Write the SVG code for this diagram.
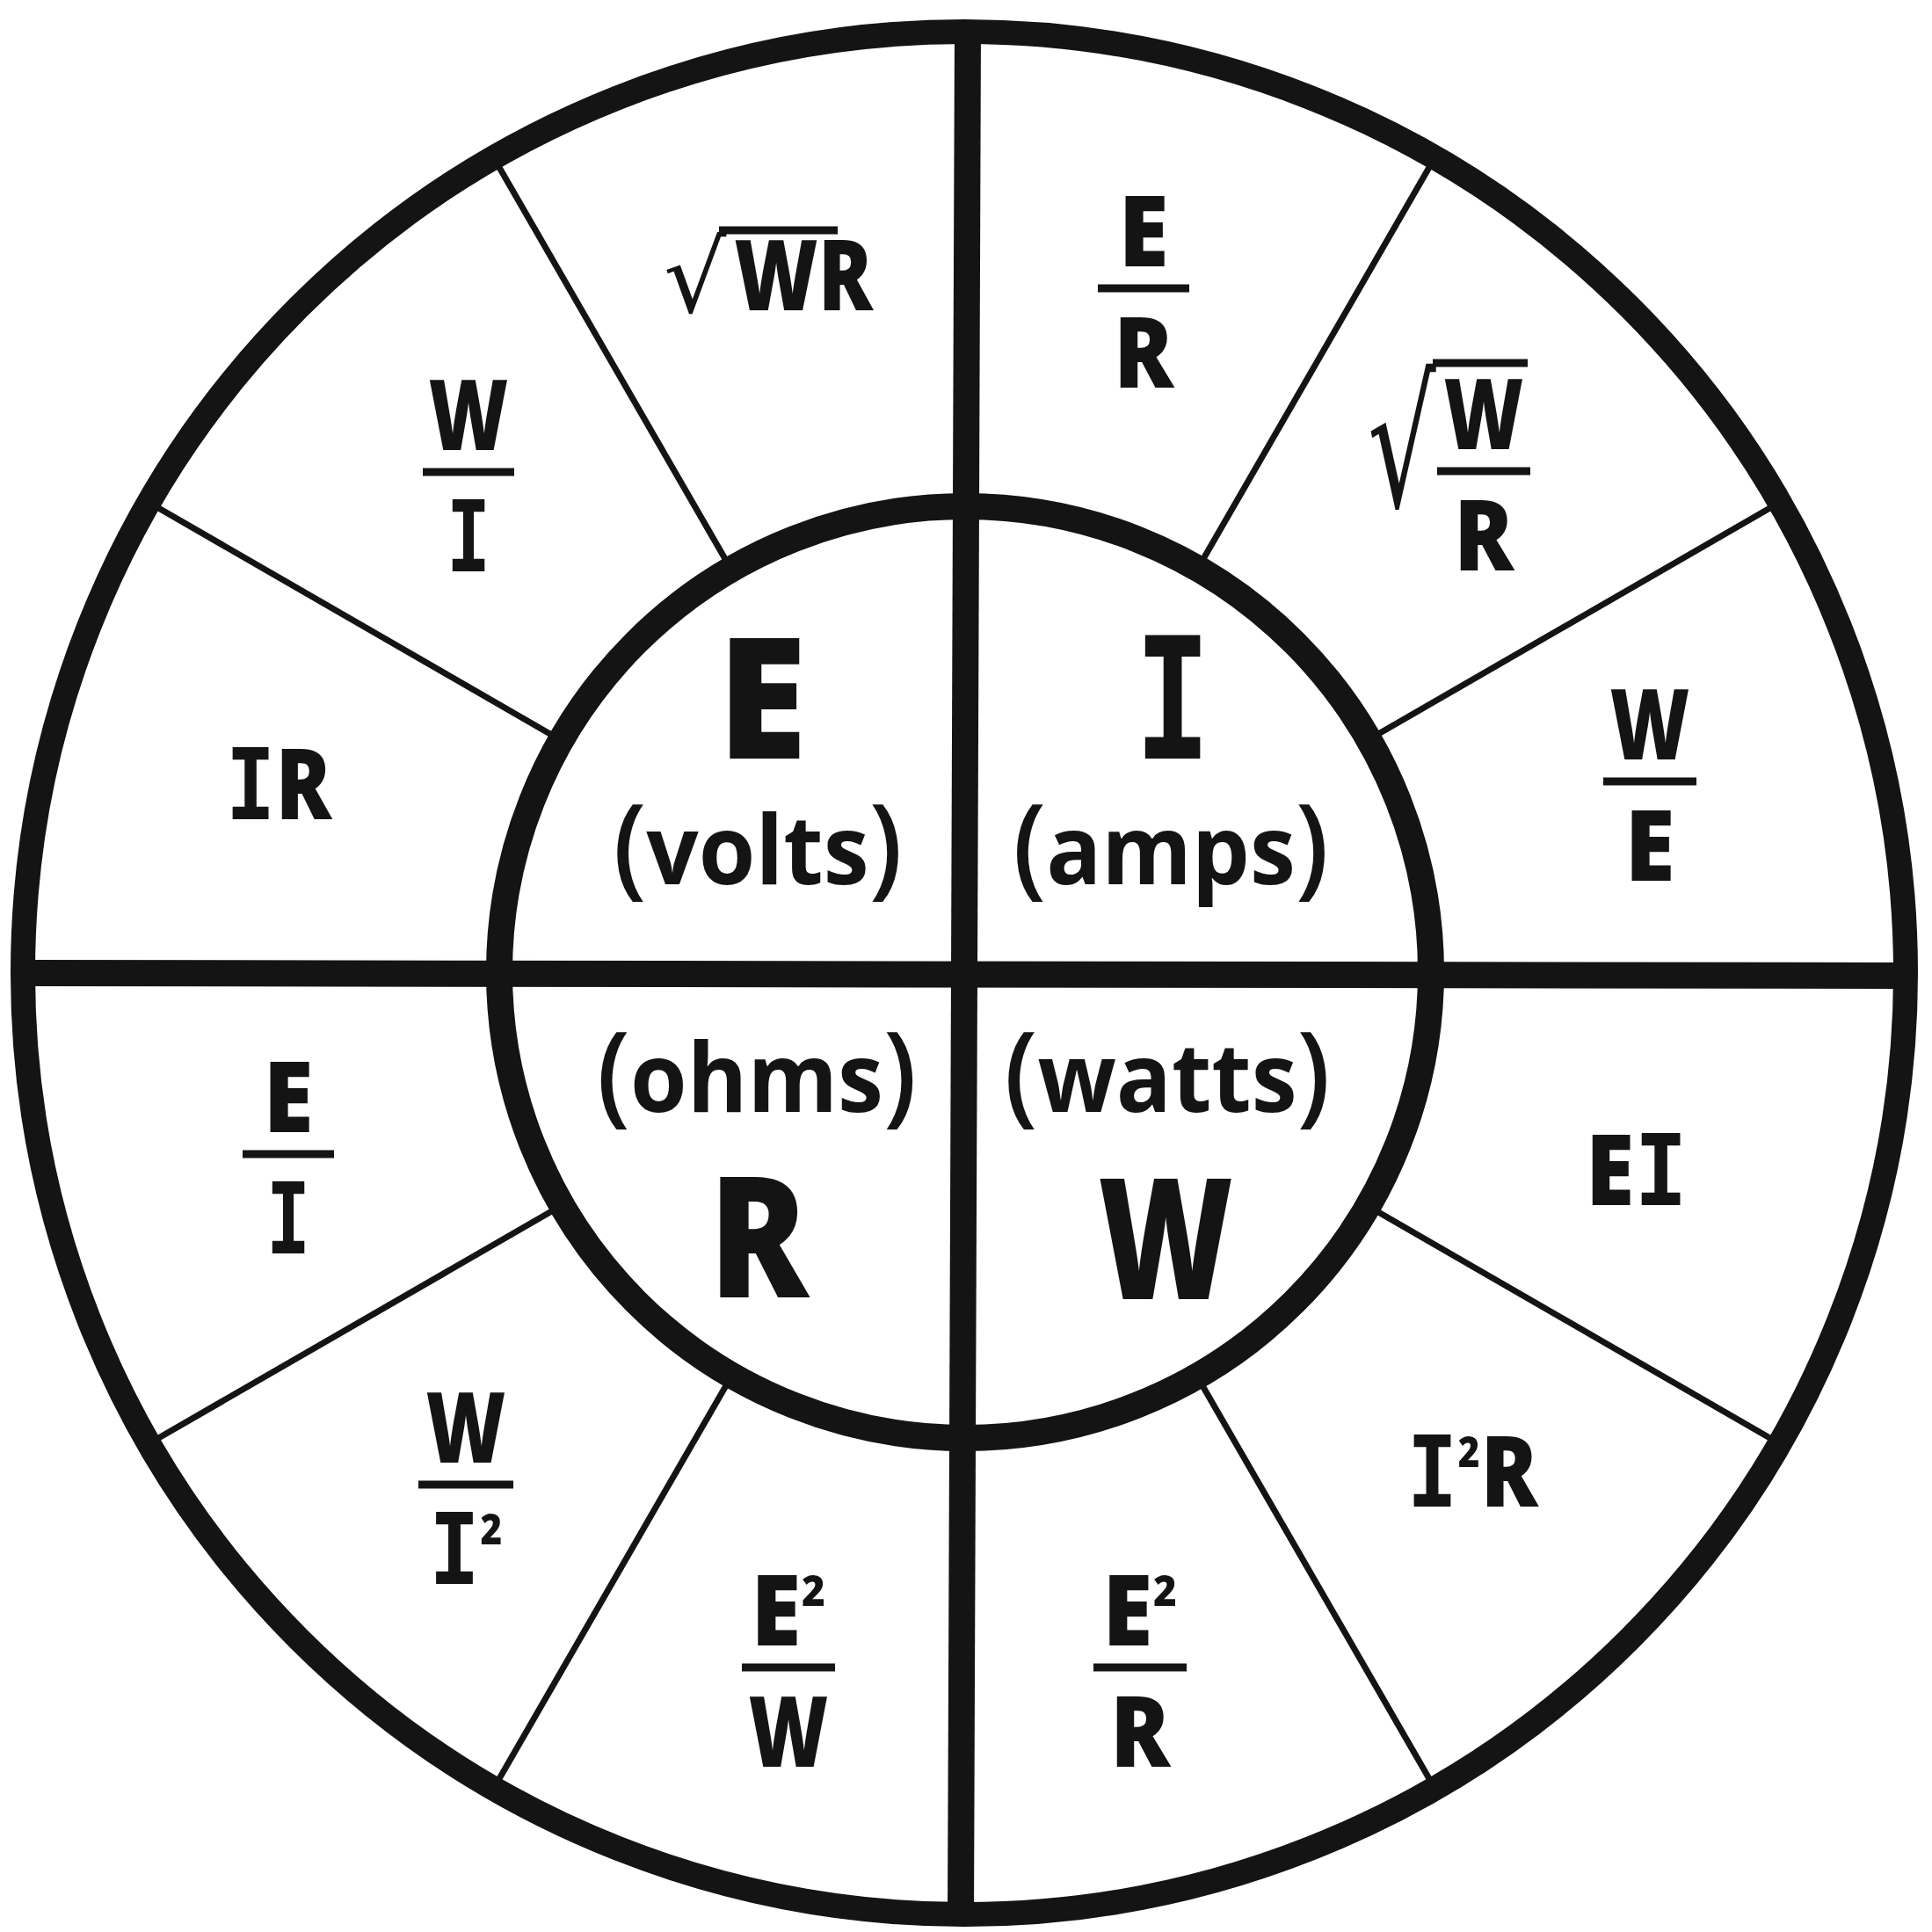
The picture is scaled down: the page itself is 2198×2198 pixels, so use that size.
<svg xmlns="http://www.w3.org/2000/svg" width="2198" height="2198" viewBox="0 0 2198 2198">
<style>
.t{font-family:"Open Sans","Liberation Sans",sans-serif;font-weight:800;fill:#141414;text-anchor:middle}
.o{font-size:112px}
.big{font-size:192px}
.u{font-size:110px;font-weight:700}
.p{font-size:126px;font-weight:600}
.i{font-family:"DejaVu Sans Mono","Liberation Mono",monospace;font-weight:700}
.sup{font-size:80px;font-weight:700}
.rad{font-family:"DejaVu Sans","Liberation Sans",sans-serif;font-weight:400;fill:#141414}
.ring{fill:none;stroke:#141414}
.thick{stroke:#141414;stroke-width:30;fill:none}
.thin{stroke:#141414;stroke-width:7}
.bar{stroke:#141414;stroke-width:9}
</style>
<rect width="2198" height="2198" fill="#ffffff"/>
<g id="rings">
<circle class="ring" cx="1097" cy="1107" r="1071" stroke-width="28"/>
<circle class="ring" cx="1098" cy="1106" r="530" stroke-width="30"/>
</g>
<g id="dividers">
<line class="thick" x1="1101" y1="34" x2="1093" y2="2181"/>
<line class="thick" x1="27" y1="1107" x2="2167" y2="1110"/>
<g transform="translate(1097,1107)">
<line class="thin" x1="459" y1="-265" x2="927" y2="-535"/>
<line class="thin" x1="265" y1="-459" x2="535" y2="-927"/>
<line class="thin" x1="-265" y1="-459" x2="-535" y2="-927"/>
<line class="thin" x1="-459" y1="-265" x2="-927" y2="-535"/>
<line class="thin" x1="-459" y1="265" x2="-927" y2="535"/>
<line class="thin" x1="-265" y1="459" x2="-535" y2="927"/>
<line class="thin" x1="265" y1="459" x2="535" y2="927"/>
<line class="thin" x1="459" y1="265" x2="927" y2="535"/>
</g>
</g>
<g id="volts">
<text class="t big" transform="translate(867,863) scale(0.97,1)">E</text>
<text class="t u" transform="translate(862,1006) scale(0.95,1)"><tspan class="p">(</tspan>volts<tspan class="p">)</tspan></text>
</g>
<g id="amps">
<text class="t big" transform="translate(1334,863) scale(0.75,1)"><tspan class="i">I</tspan></text>
<text class="t u" transform="translate(1332,1006) scale(0.95,1)"><tspan class="p">(</tspan>amps<tspan class="p">)</tspan></text>
</g>
<g id="ohms">
<text class="t u" transform="translate(861,1265) scale(0.95,1)"><tspan class="p">(</tspan>ohms<tspan class="p">)</tspan></text>
<text class="t big" transform="translate(863,1476) scale(0.87,1)">R</text>
</g>
<g id="watts">
<text class="t u" transform="translate(1328,1265) scale(0.95,1)"><tspan class="p">(</tspan>watts<tspan class="p">)</tspan></text>
<text class="t big" transform="translate(1326,1478) scale(0.77,1)">W</text>
</g>
<g id="sqrt-wr">
<text class="rad" font-size="112" x="755" y="355">√</text>
<line class="bar" x1="818" y1="262" x2="953" y2="262"/>
<text class="t o" transform="translate(914,353) scale(0.82,1)">WR</text>
</g>
<g id="w-over-i" transform="translate(533,537)">
<text class="t o" transform="translate(0,-25) scale(0.78,1)">W</text>
<line class="bar" x1="-52" y1="0" x2="52" y2="0"/>
<text class="t o" transform="translate(0,113) scale(0.75,1)"><tspan class="i">I</tspan></text>
</g>
<g id="ir">
<text class="t o" transform="translate(317,932) scale(0.84,1)"><tspan class="i">I</tspan>R</text>
</g>
<g id="e-over-r" transform="translate(1301,328)">
<text class="t o" transform="translate(0,-25) scale(0.93,1)">E</text>
<line class="bar" x1="-52" y1="0" x2="52" y2="0"/>
<text class="t o" transform="translate(0,113) scale(0.9,1)">R</text>
</g>
<g id="sqrt-w-over-r">
<text class="rad" font-size="100" transform="translate(1556,576) scale(1.22,2.0)">√</text>
<line class="bar" x1="1630" y1="413" x2="1738" y2="413"/>
<g transform="translate(1688,536)">
<text class="t o" transform="translate(0,-25) scale(0.78,1)">W</text>
<line class="bar" x1="-53" y1="0" x2="53" y2="0"/>
<text class="t o" transform="translate(0,113) scale(0.9,1)">R</text>
</g>
</g>
<g id="w-over-e" transform="translate(1877,889)">
<text class="t o" transform="translate(0,-25) scale(0.78,1)">W</text>
<line class="bar" x1="-53" y1="0" x2="53" y2="0"/>
<text class="t o" transform="translate(0,113) scale(0.93,1)">E</text>
</g>
<g id="ei">
<text class="t o" transform="translate(1862,1371) scale(0.9,1)">E<tspan class="i">I</tspan></text>
</g>
<g id="i2r">
<text class="t o" transform="translate(1675,1714) scale(0.86,1)"><tspan class="i">I</tspan><tspan class="sup" dy="-12">²</tspan><tspan dy="12">R</tspan></text>
</g>
<g id="e2-over-r" transform="translate(1297,1897)">
<text class="t o" transform="translate(0,-25) scale(0.93,1)">E<tspan class="sup" dy="-12">²</tspan></text>
<line class="bar" x1="-53" y1="0" x2="53" y2="0"/>
<text class="t o" transform="translate(0,113) scale(0.9,1)">R</text>
</g>
<g id="e2-over-w" transform="translate(897,1897)">
<text class="t o" transform="translate(0,-25) scale(0.93,1)">E<tspan class="sup" dy="-12">²</tspan></text>
<line class="bar" x1="-53" y1="0" x2="53" y2="0"/>
<text class="t o" transform="translate(0,113) scale(0.78,1)">W</text>
</g>
<g id="w-over-i2" transform="translate(530,1689)">
<text class="t o" transform="translate(0,-25) scale(0.78,1)">W</text>
<line class="bar" x1="-54" y1="0" x2="54" y2="0"/>
<text class="t o" transform="translate(0,113) scale(0.86,1)"><tspan class="i">I</tspan><tspan class="sup" dy="-12">²</tspan></text>
</g>
<g id="e-over-i" transform="translate(328,1313)">
<text class="t o" transform="translate(0,-25) scale(0.93,1)">E</text>
<line class="bar" x1="-52" y1="0" x2="52" y2="0"/>
<text class="t o" transform="translate(0,113) scale(0.75,1)"><tspan class="i">I</tspan></text>
</g>
</svg>
